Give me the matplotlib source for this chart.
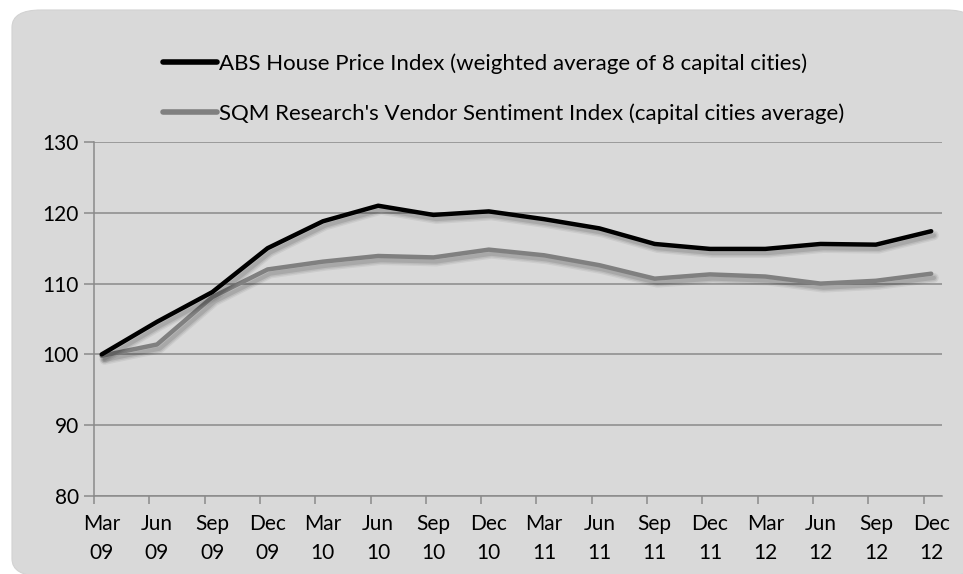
import numpy as np
import matplotlib.pyplot as plt
import matplotlib.patheffects as pe
from matplotlib.patches import FancyBboxPatch

plt.rcParams['font.family'] = ['Lato', 'DejaVu Sans']

quarters = ['Mar\n09', 'Jun\n09', 'Sep\n09', 'Dec\n09', 'Mar\n10', 'Jun\n10', 'Sep\n10', 'Dec\n10',
            'Mar\n11', 'Jun\n11', 'Sep\n11', 'Dec\n11', 'Mar\n12', 'Jun\n12', 'Sep\n12', 'Dec\n12']
abs_hpi = [100.0, 104.6, 108.8, 115.0, 118.8, 121.0, 119.7, 120.2,
           119.1, 117.8, 115.6, 114.9, 114.9, 115.6, 115.5, 117.4]
sqm_vsi = [99.8, 101.4, 108.1, 112.0, 113.1, 113.9, 113.7, 114.8,
           114.0, 112.6, 110.7, 111.3, 111.0, 110.0, 110.4, 111.4]

labels = ['ABS House Price Index (weighted average of 8 capital cities)',
          "SQM Research's Vendor Sentiment Index (capital cities average)"]

W, H = 963, 574
fig = plt.figure(figsize=(W / 100, H / 100), dpi=100)
fig.patch.set_facecolor('white')

# rounded grey chart area (runs off the right and bottom edges)
box = FancyBboxPatch((12 / W, -2 / H), 1.0, 1 - 8 / H, boxstyle='round,pad=0,rounding_size=0.03',
                     transform=fig.transFigure, facecolor='#d9d9d9', edgecolor='#d2d2d2',
                     linewidth=0.8, zorder=0)
fig.add_artist(box)

ax = fig.add_axes([94 / W, 1 - 496 / H, (941.7 - 94) / W, (496 - 142) / H])
ax.set_facecolor('none')

x = np.arange(len(quarters))
# soft drop shadow built from a few faint offset strokes
shadow = [pe.SimpleLineShadow(offset=(2, -3), shadow_color='black', alpha=0.06, linewidth=7),
          pe.SimpleLineShadow(offset=(2, -3), shadow_color='black', alpha=0.08, linewidth=5),
          pe.SimpleLineShadow(offset=(2, -3), shadow_color='black', alpha=0.10, linewidth=3),
          pe.Normal()]
ax.plot(x, abs_hpi, color='black', lw=3.2, solid_capstyle='round', solid_joinstyle='round',
        label=labels[0], path_effects=shadow, zorder=4)
ax.plot(x, sqm_vsi, color='#808080', lw=3.2, solid_capstyle='round', solid_joinstyle='round',
        label=labels[1], path_effects=shadow, zorder=3)

ax.set_ylim(80, 130)
ax.set_xlim(-0.139, 15.19)
ax.set_yticks([80, 90, 100, 110, 120, 130])
ax.grid(axis='y', color='#8a8a8a', lw=1.1)
ax.set_axisbelow(True)

ax.set_xticks(x)
ax.set_xticklabels(quarters, linespacing=1.55)
ax.set_xticks(x - 0.139, minor=True)
ax.tick_params(axis='x', which='major', length=0, pad=13, labelsize=15)
ax.tick_params(axis='x', which='minor', length=6, width=1.1, color='#8a8a8a', direction='out')
ax.tick_params(axis='y', length=7, width=1.1, color='#8a8a8a', labelsize=15, pad=4)

for s in ['top', 'right']:
    ax.spines[s].set_visible(False)
for s in ['left', 'bottom']:
    ax.spines[s].set_color('#8a8a8a')
    ax.spines[s].set_linewidth(1.1)

leg = ax.legend(loc='upper left', bbox_to_anchor=(163 / W, 1 - 53 / H), bbox_transform=fig.transFigure,
                frameon=False, fontsize=16, handlelength=2.45, handletextpad=0.05, labelspacing=1.35,
                borderpad=0, borderaxespad=0)
for h in leg.get_lines():
    h.set_linewidth(4.0)
    h.set_path_effects([])

fig.savefig('out.png', dpi=100)
